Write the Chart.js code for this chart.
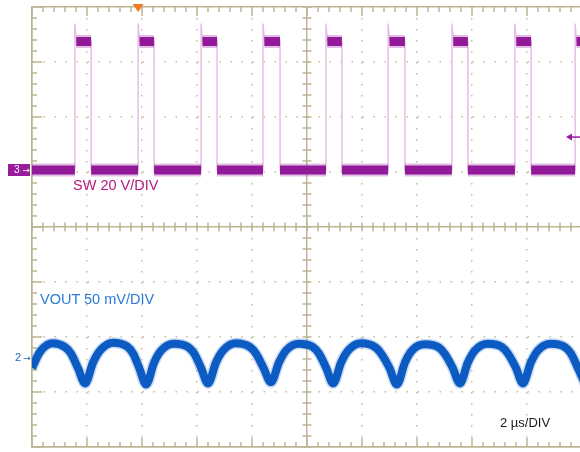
<!DOCTYPE html>
<html>
<head>
<meta charset="utf-8">
<script src="https://cdn.jsdelivr.net/npm/chart.js@4.4.1/dist/chart.umd.min.js"></script>
<style>
  html, body { margin: 0; padding: 0; width: 580px; height: 452px; overflow: hidden; background: #fff; }
  #wrap { position: relative; width: 600px; height: 452px; }
  .lbl { position: absolute; white-space: nowrap; font-family: "Liberation Sans", Arial, sans-serif; line-height: 1; }
  .arr { font-family: "DejaVu Sans", sans-serif; }
</style>
</head>
<body>
<div id="wrap">
  <canvas id="scope" width="600" height="452"></canvas>
  <div class="lbl" style="left:8px; top:164px; width:22px; height:12px; line-height:12px; background:#9A1C9E; color:#fff; font-size:10px; padding-left:6px; box-sizing:border-box;">3<span class="arr" style="font-size:9px; margin-left:3px;">&#8594;</span></div>
  <div class="lbl" style="left:15px; top:351.5px; font-size:11px; color:#1D66C6;">2<span class="arr" style="font-size:9px; margin-left:2px;">&#8594;</span></div>
  <div class="lbl" style="left:73px; top:177.7px; font-size:14.5px; color:#B3197F;">SW 20 V/DIV</div>
  <div class="lbl" style="left:40px; top:291.7px; font-size:14.5px; color:#2A7BD5;">VOUT 50 mV/DIV</div>
  <div class="lbl" style="left:500px; top:416px; font-size:13px; color:#1a1a1a;">2 µs/DIV</div>
</div>
<script>
// time base: 10 divisions of 2 us
const timeMaxUs = 20;
const timeDivUs = 2;

// SW (channel 3), 20 V/div, ground 5 div up from the bottom
const swDivV = 20;
const swAxisMinV = -100;
const swAxisMaxV = 60;
const swRiseUs = [1.56, 3.86, 6.15, 8.40, 10.69, 12.95, 15.27, 17.56, 19.75];
const swFallUs = [2.15, 4.44, 6.73, 9.02, 11.27, 13.56, 15.85, 18.15];
const swLowV = 0.7;
const swHighV = 47.5;
const swSpikeV = 54;
const triggerTimeUs = 3.86;
const triggerLevelV = 12.7;

// VOUT (channel 2), 50 mV/div, AC ripple around the marker
const voutAxisMinMv = -81.8;
const voutAxisMaxMv = 318.2;
const voutTimeUs = [
  0, 0.3, 0.75, 1.2, 1.42, 1.67, 1.93,
  2.22, 2.48, 2.95, 3.46, 3.68, 3.9, 4.15,
  4.44, 4.70, 5.17, 5.68, 5.9, 6.15, 6.40,
  6.69, 6.95, 7.42, 7.93, 8.15, 8.42, 8.69,
  8.98, 9.24, 9.71, 10.22, 10.44, 10.70, 10.95,
  11.24, 11.5, 11.97, 12.48, 12.7, 13.0, 13.27,
  13.56, 13.82, 14.29, 14.8, 15.02, 15.3, 15.56,
  15.85, 16.11, 16.58, 17.09, 17.31, 17.6, 17.85,
  18.14, 18.4, 18.87, 19.38, 19.6, 19.85, 20.1
];
const voutMv = [
  -10, 5, 12.5, 9, 3, -10, -24,
  -5, 6, 13, 9.5, 3, -10, -25,
  -5, 6, 12, 9, 3, -10, -24,
  -5, 6, 12.5, 9, 3, -10, -23,
  -5, 6, 12, 9, 3, -10, -24,
  -5, 6, 12.5, 9, 3, -10, -25,
  -5, 6, 11.5, 8.5, 2.5, -10, -24,
  -5, 6, 12, 9, 3, -10, -24,
  -5, 6, 12, 9, 3, -10, -24
];

const gridSolid = '#BDB592';
const gridDots = '#C2BB9E';

// thin trace including the switching edges
const swEdge = [{x: 0, y: swLowV}];
swRiseUs.forEach((r, i) => {
  const f = i < swFallUs.length ? swFallUs[i] : timeMaxUs + 1;
  swEdge.push({x: r, y: swLowV}, {x: r, y: swSpikeV}, {x: r + 0.05, y: swHighV});
  swEdge.push({x: f, y: swHighV}, {x: f, y: swLowV});
});

// thick noisy plateaus only (gaps at the edges)
const swBand = [];
let segStart = 0;
swRiseUs.forEach((r, i) => {
  const f = i < swFallUs.length ? swFallUs[i] : timeMaxUs + 1;
  swBand.push({x: segStart, y: swLowV}, {x: r, y: swLowV}, {x: r, y: null});
  swBand.push({x: r + 0.05, y: swHighV}, {x: f, y: swHighV}, {x: f, y: null});
  segStart = f;
});

const vout = voutTimeUs.map((t, i) => ({x: t, y: voutMv[i]}));

const isSolidX = v => v === 0 || v === timeMaxUs / 2 || v === timeMaxUs;
const isSolidY = v => v === swAxisMinV || v === swAxisMaxV || v === -20;

// minor ticks on the frame and the centre axes, trigger markers
const graticule = {
  id: 'graticule',
  beforeDatasetsDraw(chart) {
    const {ctx, chartArea: a, scales: {x, y}} = chart;
    const cx = x.getPixelForValue(timeMaxUs / 2);
    const cy = y.getPixelForValue(-20);
    ctx.save();
    ctx.strokeStyle = gridSolid;
    ctx.lineWidth = 1.5;
    ctx.beginPath();
    for (let k = 0; k <= 50; k++) {
      const px = x.getPixelForValue(k * timeDivUs / 5);
      const len = k % 5 === 0 ? 9 : 5;
      ctx.moveTo(px, a.top); ctx.lineTo(px, a.top + len);
      ctx.moveTo(px, a.bottom); ctx.lineTo(px, a.bottom - len);
      ctx.moveTo(px, cy - 4.5); ctx.lineTo(px, cy + 4.5);
    }
    for (let k = 0; k <= 40; k++) {
      const py = y.getPixelForValue(swAxisMinV + k * swDivV / 5);
      const len = k % 5 === 0 ? 10 : 5;
      ctx.moveTo(a.left, py); ctx.lineTo(a.left + len, py);
      ctx.moveTo(cx - 4.5, py); ctx.lineTo(cx + 4.5, py);
    }
    ctx.stroke();
    ctx.restore();
  },
  afterDraw(chart) {
    const {ctx, chartArea: a, scales: {x, y}} = chart;
    const tx = x.getPixelForValue(triggerTimeUs);
    ctx.save();
    ctx.fillStyle = '#F07A22';
    ctx.beginPath();
    ctx.moveTo(tx - 5.5, a.top - 3);
    ctx.lineTo(tx + 5.5, a.top - 3);
    ctx.lineTo(tx, a.top + 5);
    ctx.closePath();
    ctx.fill();
    const ly = y.getPixelForValue(triggerLevelV);
    ctx.strokeStyle = '#9A1C9E';
    ctx.fillStyle = '#9A1C9E';
    ctx.lineWidth = 1.5;
    ctx.beginPath();
    ctx.moveTo(571, ly); ctx.lineTo(580, ly);
    ctx.stroke();
    ctx.beginPath();
    ctx.moveTo(566, ly); ctx.lineTo(572, ly - 3.5); ctx.lineTo(572, ly + 3.5);
    ctx.closePath();
    ctx.fill();
    ctx.restore();
  }
};

new Chart(document.getElementById('scope'), {
  type: 'line',
  data: {
    datasets: [{
      data: vout, yAxisID: 'yV',
      borderColor: '#0B5BC2', borderWidth: 8,
      cubicInterpolationMode: 'monotone'
    }, {
      data: vout, yAxisID: 'yV',
      borderColor: 'rgba(40,110,210,0.25)', borderWidth: 11,
      cubicInterpolationMode: 'monotone'
    }, {
      data: swBand, yAxisID: 'y',
      borderColor: '#921A98', borderWidth: 9, borderCapStyle: 'butt'
    }, {
      data: swBand, yAxisID: 'y',
      borderColor: 'rgba(160,40,165,0.3)', borderWidth: 13, borderCapStyle: 'butt'
    }, {
      data: swEdge, yAxisID: 'y',
      borderColor: '#E6BEE8', borderWidth: 1.5, tension: 0
    }]
  },
  options: {
    responsive: false,
    animation: false,
    events: [],
    layout: {autoPadding: false, padding: {left: 32, top: 7, right: 18, bottom: 5}},
    elements: {point: {radius: 0}, line: {borderJoinStyle: 'miter'}},
    plugins: {legend: {display: false}, tooltip: {enabled: false}},
    scales: {
      x: {
        type: 'linear', min: 0, max: timeMaxUs,
        ticks: {display: false, stepSize: timeDivUs},
        grid: {
          drawTicks: false, lineWidth: 1.5,
          color: c => isSolidX(c.tick && c.tick.value) ? gridSolid : gridDots
        },
        border: {
          display: true, color: gridSolid, width: 1.5,
          dash: c => (c.tick && !isSolidX(c.tick.value)) ? [1.5, 9.5] : []
        }
      },
      y: {
        type: 'linear', min: swAxisMinV, max: swAxisMaxV,
        ticks: {display: false, stepSize: swDivV},
        grid: {
          drawTicks: false, lineWidth: 1.5,
          color: c => isSolidY(c.tick && c.tick.value) ? gridSolid : gridDots
        },
        border: {
          display: true, color: gridSolid, width: 1.5,
          dash: c => (c.tick && !isSolidY(c.tick.value)) ? [1.5, 9.5] : []
        }
      },
      yV: {
        type: 'linear', display: false, min: voutAxisMinMv, max: voutAxisMaxMv
      }
    }
  },
  plugins: [graticule]
});
</script>
</body>
</html>
